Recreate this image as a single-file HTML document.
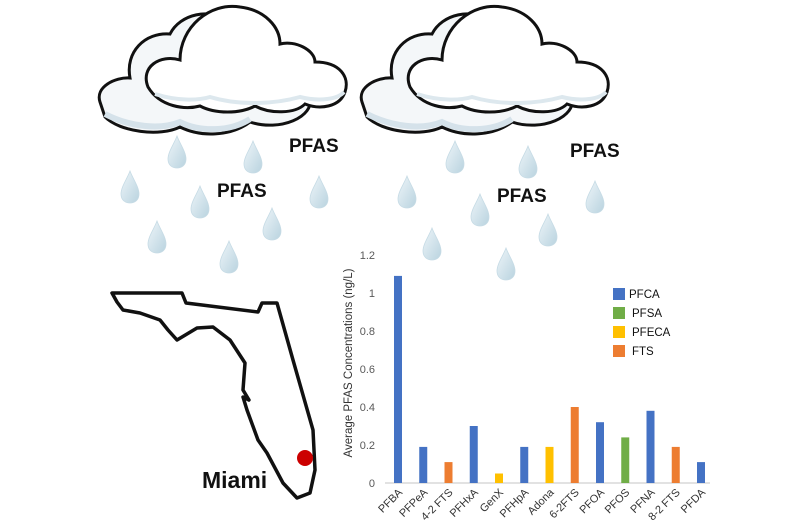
<!DOCTYPE html>
<html><head><meta charset="utf-8"><style>
html,body{margin:0;padding:0;background:#fff}
svg{display:block;font-family:"Liberation Sans",Arial,sans-serif}
</style></head><body>
<svg id="root" width="800" height="530" viewBox="0 0 800 530">
<defs>
<linearGradient id="drop" x1="0" y1="0" x2="1" y2="1"><stop offset="0" stop-color="#eef5f9"/><stop offset="1" stop-color="#b9d3df"/></linearGradient>
<g id="cloud">
  <path d="M0,100 C-5,85 15,75 30,76 C25,50 45,30 70,32 C80,12 110,5 130,20 C140,22 150,25 160,35 L210,95 C215,115 180,130 150,120 C130,135 100,135 80,125 C60,135 20,130 5,115 Z" fill="#f4f7f9" stroke="#111" stroke-width="3"/>
  <path d="M5,112 C30,125 60,128 80,120 C100,130 130,130 150,117" fill="none" stroke="#d5e2ea" stroke-width="6"/>
  <path d="M48,85 C40,65 60,52 80,58 C80,25 110,0 140,5 C165,8 180,25 180,42 C195,38 215,48 215,60 C240,60 250,75 245,90 C240,105 220,108 205,102 C195,112 170,112 155,104 C140,112 115,112 100,104 C85,108 60,105 48,85 Z" fill="#fff" stroke="#111" stroke-width="3"/>
  <path d="M55,92 C80,100 100,98 110,95 C140,104 175,102 200,95 C220,100 238,97 244,90" fill="none" stroke="#dde8ee" stroke-width="4"/>
</g>
<path id="dr" d="M0,-16 C3,-8 9,0 9,7 C9,13 5,16 0,16 C-5,16 -9,13 -9,7 C-9,0 -3,-8 0,-16 Z" fill="url(#drop)" stroke="#c6dbe5" stroke-width="0.8"/>
</defs>
<g><use href="#cloud" x="100" y="2"/></g>
<g><use href="#cloud" x="362" y="2"/></g>
<g>
<use href="#dr" x="177" y="152"/><use href="#dr" x="130" y="187"/><use href="#dr" x="253" y="157"/><use href="#dr" x="200" y="202"/><use href="#dr" x="319" y="192"/><use href="#dr" x="272" y="224"/><use href="#dr" x="157" y="237"/><use href="#dr" x="229" y="257"/>
<use href="#dr" x="455" y="157"/><use href="#dr" x="407" y="192"/><use href="#dr" x="528" y="162"/><use href="#dr" x="480" y="210"/><use href="#dr" x="595" y="197"/><use href="#dr" x="548" y="230"/><use href="#dr" x="432" y="244"/><use href="#dr" x="506" y="264"/>
</g>
<g font-weight="bold" font-size="19" fill="#111">
<text x="289" y="152">PFAS</text>
<text x="217" y="197">PFAS</text>
<text x="570" y="157">PFAS</text>
<text x="497" y="202">PFAS</text>
</g>
<path d="M112,293 L182,293 L186,303 L258,312 L262,303 L277,303 L293,360 L313,430 L315,470 L310,493 L297,498 L283,483 L267,453 L258,440 L247,410 L243,397 L249,400 L243,390 L245,363 L230,340 L213,327 L197,328 L177,340 L168,330 L160,320 L140,313 L123,310 L117,302 Z" fill="#fff" stroke="#111" stroke-width="3.5" stroke-linejoin="round"/>
<circle cx="305" cy="458" r="8" fill="#c00"/>
<text x="202" y="488" font-weight="bold" font-size="23" fill="#111">Miami</text>
<g id="chart"></g>
</svg>
<script>
const categories=["PFBA","PFPeA","4-2 FTS","PFHxA","GenX","PFHpA","Adona","6-2FTS","PFOA","PFOS","PFNA","8-2 FTS","PFDA"];
const values=[1.09,0.19,0.11,0.30,0.05,0.19,0.19,0.40,0.32,0.24,0.38,0.19,0.11];
const groups=["PFCA","PFCA","FTS","PFCA","PFECA","PFCA","PFECA","FTS","PFCA","PFSA","PFCA","FTS","PFCA"];
const legendLabels=["PFCA","PFSA","PFECA","FTS"];
const tickValues=[0,0.2,0.4,0.6,0.8,1,1.2];
const colors={PFCA:"#4472c4",PFSA:"#70ad47",PFECA:"#ffc000",FTS:"#ed7d31"};
const NS="http://www.w3.org/2000/svg";
const g=document.getElementById('chart');
const y0=483,pxPer=190;
const yS=v=>y0-v*pxPer;
const xS=i=>398+i*25.25;
function mk(t,a,txt){const e=document.createElementNS(NS,t);for(const k in a)e.setAttribute(k,a[k]);if(txt!=null)e.textContent=txt;g.appendChild(e);return e;}
const ax=mk('line',{x1:385,x2:710,y1:y0,y2:y0,stroke:'#d9d9d9','stroke-width':1.5});


tickValues.forEach(v=>{const t=mk('text',{x:375,y:yS(v)+4,'text-anchor':'end','font-size':11,fill:'#595959'},String(v));

});
const yt=mk('text',{x:0,y:0,transform:'translate(352,363) rotate(-90)','text-anchor':'middle','font-size':11.5,fill:'#333'},'Average PFAS Concentrations (ng/L)');


values.forEach((v,i)=>{const r=mk('rect',{x:xS(i)-4,y:yS(v),width:8,height:v*pxPer,fill:colors[groups[i]]});


const t=mk('text',{x:0,y:0,transform:`translate(${xS(i)+5},${y0+10}) rotate(-45)`,'text-anchor':'end','font-size':11,fill:'#333'},categories[i]);

});
legendLabels.forEach((l,i)=>{const yy=288+i*19;
const r=mk('rect',{x:613,y:yy,width:12,height:12,fill:colors[l]});


const t=mk('text',{x:i==0?629:632,y:yy+10,'font-size':11.5,fill:'#111'},l);

});
</script>
</body></html>
